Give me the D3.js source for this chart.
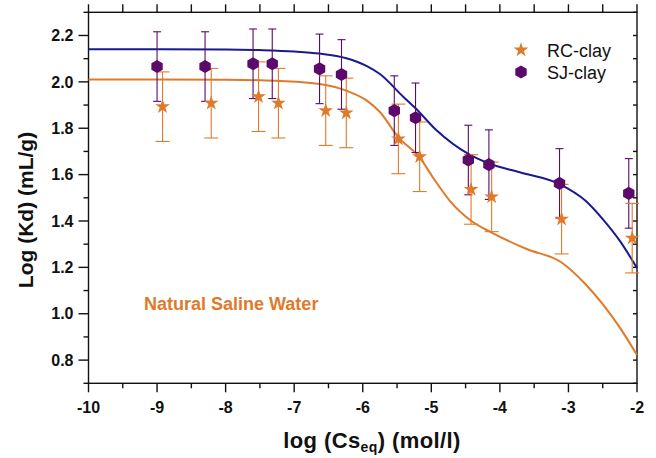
<!DOCTYPE html>
<html>
<head>
<meta charset="utf-8">
<script src="https://cdn.jsdelivr.net/npm/d3@7"></script>
<style>
    body { margin: 0; background: #fff; }
    svg { display: block; font-family: "Liberation Sans", Arial, Helvetica, sans-serif; }
    .tick-label { font-size: 16px; font-weight: bold; fill: #111; }
</style>
</head>
<body>
<svg id="chart" width="656" height="458"></svg>
<script>
// measured points, log(Cs_eq) vs log(Kd)
const rcX   = [-8.92, -8.21, -7.52, -7.23, -6.54, -6.24, -5.48, -5.17, -4.42, -4.12, -3.10, -2.07];
const rcY   = [1.893, 1.908, 1.936, 1.908, 1.876, 1.866, 1.754, 1.677, 1.536, 1.504, 1.408, 1.326];
const rcErr = [0.15, 0.15, 0.15, 0.15, 0.15, 0.15, 0.15, 0.15, 0.15, 0.15, 0.15, 0.15];

const sjX   = [-9.00, -8.30, -7.60, -7.32, -6.63, -6.31, -5.54, -5.23, -4.46, -4.16, -3.13, -2.12];
const sjY   = [2.066, 2.066, 2.078, 2.078, 2.056, 2.032, 1.876, 1.845, 1.663, 1.643, 1.562, 1.519];
const sjErr = [0.15, 0.15, 0.15, 0.15, 0.15, 0.15, 0.15, 0.15, 0.15, 0.15, 0.15, 0.15];

// fitted curves
const sjFitX = [-10, -9, -8, -7.5, -7, -6.63, -6.24, -5.94, -5.75, -5.41, -5.23, -4.92, -4.46, -4.16, -3.71, -3.13, -2.75, -2.5, -2.25, -2.0];
const sjFitY = [2.141, 2.141, 2.140, 2.137, 2.131, 2.122, 2.102, 2.068, 2.034, 1.936, 1.886, 1.790, 1.689, 1.648, 1.610, 1.559, 1.487, 1.408, 1.314, 1.197];
const rcFitX = [-10, -9, -8, -7.5, -7.21, -6.63, -6.24, -5.94, -5.75, -5.48, -5.17, -4.97, -4.73, -4.42, -4.12, -3.61, -3.10, -2.75, -2.5, -2.25, -2.0];
const rcFitY = [2.010, 2.010, 2.009, 2.007, 2.004, 1.991, 1.962, 1.919, 1.870, 1.761, 1.674, 1.585, 1.487, 1.401, 1.350, 1.279, 1.221, 1.127, 1.041, 0.940, 0.822];

const xTicks = [-10, -9, -8, -7, -6, -5, -4, -3, -2];
const yTicks = [0.8, 1.0, 1.2, 1.4, 1.6, 1.8, 2.0, 2.2];

const orange = "#df7a2a",
      purple = "#5b0a6b",
      navy   = "#1a1a8e";

const svg = d3.select("#chart");
const pLeft = 88.5, pRight = 637, pTop = 12.3, pBottom = 383.3;

const x = d3.scaleLinear().domain([-10, -2]).range([pLeft, pRight]);
const y = d3.scaleLinear().domain([0.7, 2.3]).range([pBottom, pTop]);

// hexagon symbol (pointy top)
const hexagon = {
    draw(ctx, size) {
        const r = Math.sqrt(size / (3 * Math.sqrt(3) / 2));
        for (let i = 0; i < 6; i++) {
            const a = Math.PI / 3 * i - Math.PI / 2;
            if (i === 0) ctx.moveTo(r * Math.cos(a), r * Math.sin(a));
            else ctx.lineTo(r * Math.cos(a), r * Math.sin(a));
        }
        ctx.closePath();
    }
};
const starPath = d3.symbol().type(d3.symbolStar).size(68)();
const hexPath = d3.symbol().type(hexagon).size(112)();

///////////////////////////////////////////////////////////////////////////
// Axes
///////////////////////////////////////////////////////////////////////////

const axes = svg.append("g").attr("stroke", "#111").attr("stroke-width", 1.4);

// frame
axes.append("rect")
    .attr("x", pLeft).attr("y", pTop)
    .attr("width", pRight - pLeft).attr("height", pBottom - pTop)
    .attr("fill", "none");

const xMinor = d3.range(-9.5, -2, 1);
const yMinor = d3.range(0.7, 2.35, 0.2);
const yAll = d3.range(0.7, 2.35, 0.1);

// bottom
xTicks.forEach(v => axes.append("line").attr("x1", x(v)).attr("x2", x(v)).attr("y1", pBottom).attr("y2", pBottom + 9));
xMinor.forEach(v => axes.append("line").attr("x1", x(v)).attr("x2", x(v)).attr("y1", pBottom).attr("y2", pBottom + 5));
// top
xTicks.forEach(v => axes.append("line").attr("x1", x(v)).attr("x2", x(v)).attr("y1", pTop).attr("y2", pTop - 8));
xMinor.forEach(v => axes.append("line").attr("x1", x(v)).attr("x2", x(v)).attr("y1", pTop).attr("y2", pTop - 8));
// left
yTicks.forEach(v => axes.append("line").attr("x1", pLeft - 10).attr("x2", pLeft).attr("y1", y(v)).attr("y2", y(v)));
yMinor.forEach(v => axes.append("line").attr("x1", pLeft - 5).attr("x2", pLeft).attr("y1", y(v)).attr("y2", y(v)));
// right (inward)
yAll.forEach(v => axes.append("line").attr("x1", pRight - 4).attr("x2", pRight).attr("y1", y(v)).attr("y2", y(v)));

svg.append("g").selectAll("text")
    .data(xTicks)
    .join("text")
    .attr("class", "tick-label")
    .attr("x", d => x(d))
    .attr("y", pBottom + 30)
    .attr("text-anchor", "middle")
    .text(d => d);

svg.append("g").selectAll("text")
    .data(yTicks)
    .join("text")
    .attr("class", "tick-label")
    .attr("x", pLeft - 15)
    .attr("y", d => y(d) + 5.7)
    .attr("text-anchor", "end")
    .text(d => d3.format(".1f")(d));

// axis titles
const xt = svg.append("text")
    .attr("x", 372).attr("y", 448)
    .attr("text-anchor", "middle")
    .attr("font-size", 22).attr("font-weight", "bold").attr("fill", "#111")
    .attr("letter-spacing", 0.4);
xt.append("tspan").text("log (Cs");
xt.append("tspan").attr("dy", 4).attr("font-size", 14).text("eq");
xt.append("tspan").attr("dy", -4).text(") (mol/l)");

svg.append("text")
    .attr("transform", "translate(33,210) rotate(-90)")
    .attr("text-anchor", "middle")
    .attr("font-size", 21).attr("font-weight", "bold").attr("fill", "#111")
    .text("Log (Kd) (mL/g)");

///////////////////////////////////////////////////////////////////////////
// Fit curves
///////////////////////////////////////////////////////////////////////////

const line = d3.line()
    .x(d => x(d[0]))
    .y(d => y(d[1]))
    .curve(d3.curveMonotoneX);

svg.append("path")
    .attr("d", line(d3.zip(rcFitX, rcFitY)))
    .attr("fill", "none").attr("stroke", orange).attr("stroke-width", 2);
svg.append("path")
    .attr("d", line(d3.zip(sjFitX, sjFitY)))
    .attr("fill", "none").attr("stroke", navy).attr("stroke-width", 2);

///////////////////////////////////////////////////////////////////////////
// Error bars and markers
///////////////////////////////////////////////////////////////////////////

function errorBars(xs, ys, errs, color, cap) {
    const g = svg.append("g").attr("stroke", color).attr("stroke-width", 1.1);
    xs.forEach((xv, i) => {
        const cx = x(xv), y0 = y(ys[i] - errs[i]), y1 = y(ys[i] + errs[i]);
        g.append("line").attr("x1", cx).attr("x2", cx).attr("y1", y0).attr("y2", y1);
        g.append("line").attr("x1", cx - cap).attr("x2", cx + cap).attr("y1", y0).attr("y2", y0);
        g.append("line").attr("x1", cx - cap).attr("x2", cx + cap).attr("y1", y1).attr("y2", y1);
    });
}
errorBars(sjX, sjY, sjErr, purple, 4);
errorBars(rcX, rcY, rcErr, orange, 7);

svg.append("g").selectAll("path")
    .data(d3.zip(sjX, sjY))
    .join("path")
    .attr("d", hexPath)
    .attr("transform", d => "translate(" + x(d[0]) + "," + y(d[1]) + ")")
    .attr("fill", purple);

svg.append("g").selectAll("path")
    .data(d3.zip(rcX, rcY))
    .join("path")
    .attr("d", starPath)
    .attr("transform", d => "translate(" + x(d[0]) + "," + y(d[1]) + ")")
    .attr("fill", orange);

///////////////////////////////////////////////////////////////////////////
// Legend and annotation
///////////////////////////////////////////////////////////////////////////

const legend = svg.append("g");
legend.append("path").attr("d", starPath).attr("transform", "translate(521,50)").attr("fill", orange);
legend.append("path").attr("d", hexPath).attr("transform", "translate(521,72)").attr("fill", purple);
legend.append("text").attr("x", 547).attr("y", 56.5).attr("font-size", 18).attr("fill", "#111").text("RC-clay");
legend.append("text").attr("x", 547).attr("y", 78.5).attr("font-size", 18).attr("fill", "#111").text("SJ-clay");

svg.append("text")
    .attr("x", 144).attr("y", 310)
    .attr("font-size", 18).attr("font-weight", "bold")
    .attr("fill", orange)
    .text("Natural Saline Water");
</script>
</body>
</html>
